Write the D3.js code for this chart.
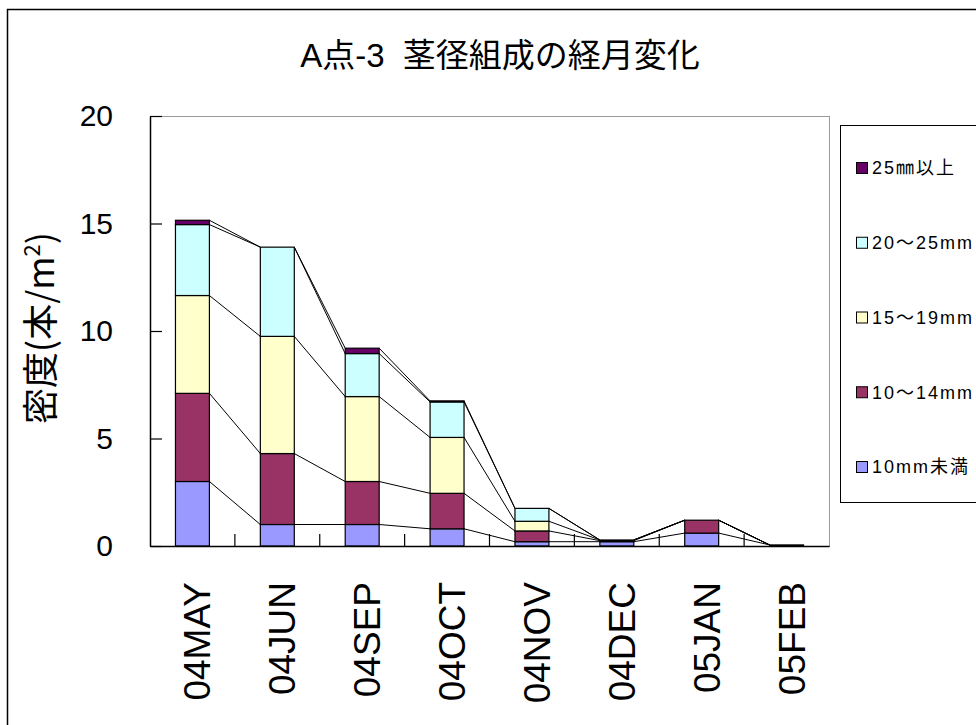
<!DOCTYPE html>
<html>
<head>
<meta charset="utf-8">
<script src="https://cdn.jsdelivr.net/npm/d3@7"></script>
<style>
  html, body { margin: 0; padding: 0; background: #fff; }
  svg { display: block; }
</style>
</head>
<body>
<svg id="chart" width="976" height="725"></svg>
<script>
// Months on the horizontal axis
const months = ["04MAY", "04JUN", "04SEP", "04OCT", "04NOV", "04DEC", "05JAN", "05FEB"];

// Stem density (stems per m²) by stem-diameter class
const under10   = [3.0, 1.0, 1.0, 0.8, 0.2, 0.2, 0.6, 0.05];
const d10to14   = [4.1, 3.3, 2.0, 1.65, 0.5, 0.05, 0.6, 0];
const d15to19   = [4.55, 5.45, 3.95, 2.6, 0.45, 0.03, 0, 0];
const d20to25   = [3.3, 4.15, 2.0, 1.65, 0.6, 0, 0, 0];
const over25    = [0.2, 0, 0.25, 0.05, 0, 0, 0, 0];

const seriesNames = ["10mm未満", "10～14mm", "15～19mm", "20～25mm", "25㎜以上"];
const seriesColors = ["#9999FF", "#993366", "#FFFFCC", "#CCFFFF", "#660066"];
const yTicks = [0, 5, 10, 15, 20];

const titleText = "A点-3  茎径組成の経月変化";

const svg = d3.select("#chart");
const latin = "'Liberation Sans', Arial, 'Noto Sans CJK JP', sans-serif";
const cjk = "'Noto Sans CJK JP', 'Liberation Sans', sans-serif";

// White page with the chart frame
svg.append("rect").attr("width", 976).attr("height", 725).attr("fill", "#fff");
svg.append("rect")
  .attr("x", 7.5).attr("y", 9.5).attr("width", 1100).attr("height", 900)
  .attr("fill", "none").attr("stroke", "#000").attr("stroke-width", 1.5);

const plot = { left: 150, right: 829, top: 116, bottom: 546 };

const x = d3.scaleBand().domain(months)
  .range([plot.left, plot.right]).paddingInner(0.6).paddingOuter(0.3);
const y = d3.scaleLinear().domain([0, 20]).range([plot.bottom, plot.top]);

// Plot area border
svg.append("rect")
  .attr("x", plot.left + 0.5).attr("y", plot.top + 0.5)
  .attr("width", plot.right - plot.left).attr("height", plot.bottom - plot.top)
  .attr("fill", "#fff").attr("stroke", "#9a9a9a").attr("stroke-width", 1);

// Stacked layers
const columns = [under10, d10to14, d15to19, d20to25, over25];
const rows = months.map((m, i) => {
  const r = { month: m };
  seriesNames.forEach((s, k) => { r[s] = columns[k][i]; });
  return r;
});
const stacked = d3.stack().keys(seriesNames)(rows);

// Series lines joining each layer top between neighbouring bars
const bw = x.bandwidth();
const linkG = svg.append("g").attr("stroke", "#000").attr("stroke-width", 1).attr("fill", "none");
stacked.forEach(layer => {
  for (let i = 0; i < months.length - 1; i++) {
    linkG.append("line")
      .attr("x1", x(months[i]) + bw).attr("y1", y(layer[i][1]))
      .attr("x2", x(months[i + 1])).attr("y2", y(layer[i + 1][1]));
  }
});

// Bars
const barG = svg.append("g");
stacked.forEach((layer, k) => {
  barG.append("g").attr("fill", seriesColors[k])
    .selectAll("rect").data(layer.filter(d => d[1] - d[0] > 0))
    .join("rect")
    .attr("x", d => x(d.data.month))
    .attr("y", d => y(d[1]))
    .attr("width", bw)
    .attr("height", d => y(d[0]) - y(d[1]))
    .attr("stroke", "#000").attr("stroke-width", 1.2);
});

// Y axis: inward ticks, large labels
const yAxis = svg.append("g")
  .attr("transform", `translate(${plot.left},0)`)
  .call(d3.axisLeft(y).tickValues(yTicks).tickSizeInner(-12).tickSizeOuter(0).tickPadding(37));
yAxis.select(".domain").attr("stroke", "#000").attr("stroke-width", 1.5);
yAxis.selectAll(".tick line").attr("stroke", "#000").attr("stroke-width", 1.2);
yAxis.selectAll(".tick text")
  .attr("font-family", latin).attr("font-size", 30).attr("fill", "#000");

// X axis: category labels rotated, ticks between categories
const xAxis = svg.append("g")
  .attr("transform", `translate(0,${plot.bottom})`)
  .call(d3.axisBottom(x).tickSize(0).tickPadding(0));
xAxis.select(".domain").attr("stroke", "#000").attr("stroke-width", 1.5);
xAxis.selectAll(".tick text")
  .attr("font-family", latin).attr("font-size", 37).attr("fill", "#000")
  .attr("text-anchor", "end")
  .attr("dy", null).attr("y", null)
  .attr("transform", "translate(18,36) rotate(-90)");

const bounds = d3.range(1, months.length).map(i => plot.left + x.step() * i);
svg.append("g").selectAll("line").data(bounds).join("line")
  .attr("x1", d => d).attr("x2", d => d)
  .attr("y1", plot.bottom).attr("y2", plot.bottom - 12)
  .attr("stroke", "#000").attr("stroke-width", 1.2);

// Title
svg.append("text")
  .attr("x", 500).attr("y", 67)
  .attr("text-anchor", "middle")
  .attr("font-family", latin).attr("font-size", 33).attr("fill", "#000")
  .attr("xml:space", "preserve")
  .text(titleText);

// Y axis title
const yt = svg.append("text")
  .attr("transform", "translate(54,328) rotate(-90)")
  .attr("text-anchor", "middle")
  .attr("font-family", cjk).attr("font-size", 36).attr("fill", "#000");
yt.append("tspan").text("密度(本/m");
yt.append("tspan").attr("font-size", 22).attr("dy", -14).text("2");
yt.append("tspan").attr("dy", 14).text(")");

// Legend
const legend = svg.append("g");
legend.append("rect")
  .attr("x", 840.5).attr("y", 125.5).attr("width", 200).attr("height", 377)
  .attr("fill", "#fff").attr("stroke", "#000").attr("stroke-width", 1);
const legendOrder = d3.range(seriesNames.length).reverse();
const legendY = d3.scalePoint().domain(legendOrder).range([168, 467]);
legendOrder.forEach(k => {
  const cy = legendY(k);
  legend.append("rect")
    .attr("x", 856.5).attr("y", cy - 5.5).attr("width", 11).attr("height", 11)
    .attr("fill", seriesColors[k]).attr("stroke", "#000").attr("stroke-width", 1);
  legend.append("text")
    .attr("x", 872).attr("y", cy).attr("dy", "0.36em")
    .attr("font-family", latin).attr("font-size", 18).attr("letter-spacing", 2)
    .attr("fill", "#000")
    .text(seriesNames[k]);
});
</script>
</body>
</html>
